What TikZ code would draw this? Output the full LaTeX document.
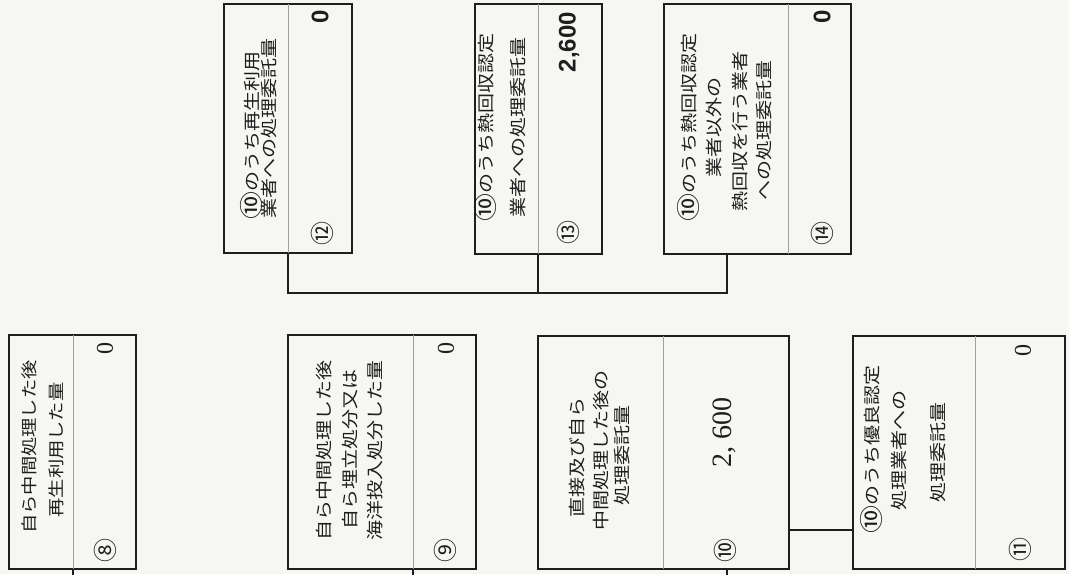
\documentclass[tikz,border=0pt]{standalone}
\usepackage{fontspec}
\usepackage{graphicx}
\newfontfamily\jp{Noto Sans CJK JP}
\newfontfamily\numserif{Liberation Serif}
\newfontfamily\numsans{Liberation Sans}
\newcommand{\sq}[1]{\scalebox{1}[0.85]{#1}}
\newcommand{\cten}{\raisebox{-2pt}{\fontsize{28}{20}\selectfont ⑩}}
\definecolor{paper}{RGB}{246,246,243}
\definecolor{ink}{RGB}{30,30,30}
\begin{document}
\begin{tikzpicture}[x=1pt,y=-1pt,
  box/.style={draw=ink, line width=2.4pt, rectangle, inner sep=0pt, anchor=north west, fill=paper},
  div/.style={draw=gray!75, line width=0.8pt, shorten <=1.2pt, shorten >=1.2pt},
  conn/.style={draw=ink, line width=2pt},
  jl/.style={rotate=90, inner sep=0pt, text=ink, font=\jp\fontsize{20}{20}\selectfont},
  jls/.style={jl, font=\jp\fontsize{19.3}{19.3}\selectfont},
  num/.style={rotate=90, inner sep=0pt, text=ink, font=\numserif\fontsize{24}{24}\selectfont},
  bignum/.style={num, font=\numserif\fontsize{28}{28}\selectfont},
  bnum/.style={rotate=90, inner sep=0pt, text=ink, font=\numsans\bfseries\fontsize{24}{24}\selectfont},
  circ/.style={rotate=90, inner sep=0pt, text=ink, font=\jp\fontsize{24}{24}\selectfont}
]
\fill[paper] (0,0) rectangle (1069,574);
\useasboundingbox (0,0) rectangle (1069,574);

% ---- boxes ----
\node[box, minimum width=127pt, minimum height=234pt] (b8)  at (8,334) {};
\node[box, minimum width=188pt, minimum height=234pt] (b9)  at (287,334) {};
\node[box, minimum width=251pt, minimum height=233pt] (b10) at (537,335) {};
\node[box, minimum width=212pt, minimum height=233pt] (b11) at (852,335) {};
\node[box, minimum width=128pt, minimum height=249pt] (b12) at (223,3) {};
\node[box, minimum width=127pt, minimum height=250pt] (b13) at (474,3) {};
\node[box, minimum width=187pt, minimum height=250pt] (b14) at (663,3) {};

% ---- dividers ----
\draw[div] (b8.north -| 73,0) -- (b8.south -| 73,0);
\draw[div] (b9.north -| 413,0) -- (b9.south -| 413,0);
\draw[div] (b10.north -| 663,0) -- (b10.south -| 663,0);
\draw[div] (b11.north -| 975,0) -- (b11.south -| 975,0);
\draw[div] (b12.north -| 288,0) -- (b12.south -| 288,0);
\draw[div] (b13.north -| 538,0) -- (b13.south -| 538,0);
\draw[div] (b14.north -| 788,0) -- (b14.south -| 788,0);

% ---- connectors ----
\coordinate (j12) at (288,293);
\coordinate (j13) at (538,293);
\coordinate (j14) at (727,293);
\draw[conn] (b12.south -| j12) -- (j12) -- (j14) -- (b14.south -| j14);
\draw[conn] (b13.south -| j13) -- (j13);
\coordinate (m1011) at (820,530);
\draw[conn] (b10.east |- m1011) -- (b11.west |- m1011);
\coordinate (s8) at (73,576);
\coordinate (s9) at (413,576);
\coordinate (s10) at (727,576);
\draw[conn] (b8.south -| s8) -- (s8);
\draw[conn] (b9.south -| s9) -- (s9);
\draw[conn] (b10.south -| s10) -- (s10);

% ---- box 8 ----
\node[jls] (t8a) at (29,447) {\sq{自ら中間処理した後}};
\node[jls] (t8b) at (56,450) {\sq{再生利用した量}};
\node[num] (n8) at (105,348) {0};
\node[circ] (c8) at (105,550) {⑧};

% ---- box 9 ----
\node[jl] (t9a) at (324,450) {\sq{自ら中間処理した後}};
\node[jl] (t9b) at (350,449) {\sq{自ら埋立処分又は}};
\node[jl] (t9c) at (375,450) {\sq{海洋投入処分した量}};
\node[num] (n9) at (446,348) {0};
\node[circ] (c9) at (445,550) {⑨};

% ---- box 10 ----
\node[jl] (t10a) at (577,457) {\sq{直接及び自ら}};
\node[jl] (t10b) at (601,450) {\sq{中間処理した後の}};
\node[jl] (t10c) at (622,455) {\sq{処理委託量}};
\node[bignum] (n10) at (724,432) {2, 600};
\node[circ] (c10) at (725,550) {⑩};

% ---- box 11 ----
\node[jl] (t11a) at (871,449) {\sq{\cten のうち優良認定}};
\node[jl] (t11b) at (899,450) {\sq{処理業者への}};
\node[jl] (t11c) at (938,452) {\sq{処理委託量}};
\node[num] (n11) at (1023,350) {0};
\node[circ] (c11) at (1020,549) {⑪};

% ---- box 12 ----
\node[jl] (t12a) at (251,135) {\sq{\cten のうち再生利用}};
\node[jl] (t12b) at (269,128) {\sq{業者への処理委託量}};
\node[bnum] (n12) at (320,17) {0};
\node[circ] (c12) at (322,233) {⑫};

% ---- box 13 ----
\node[jl] (t13a) at (485,127) {\sq{\cten のうち熱回収認定}};
\node[jl] (t13b) at (518,127) {\sq{業者への処理委託量}};
\node[bnum] (n13) at (569,42) {2,600};
\node[circ] (c13) at (568,232) {⑬};

% ---- box 14 ----
\node[jl] (t14a) at (688,127) {\sq{\cten のうち熱回収認定}};
\node[jl] (t14b) at (714,127) {\sq{業者以外の}};
\node[jl] (t14c) at (740,131) {\sq{熱回収を行う業者}};
\node[jl] (t14d) at (764,130) {\sq{への処理委託量}};
\node[bnum] (n14) at (822,17) {0};
\node[circ] (c14) at (822,233) {⑭};
\end{tikzpicture}
\end{document}
